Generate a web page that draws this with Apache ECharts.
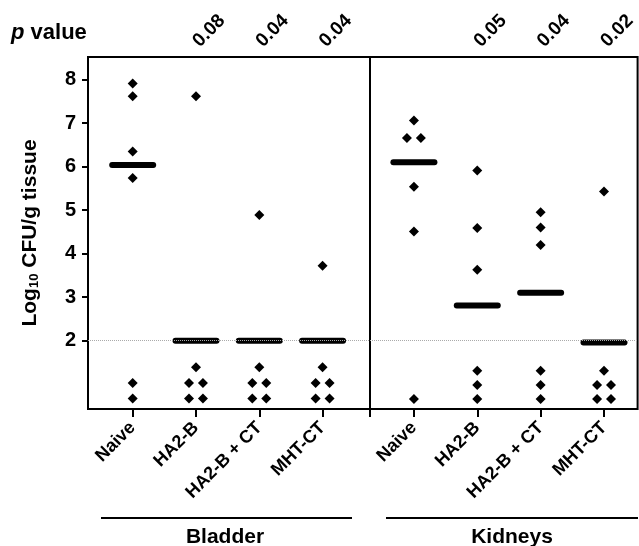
<!DOCTYPE html>
<html>
<head>
<meta charset="utf-8">
<script src="https://cdn.jsdelivr.net/npm/echarts@6/dist/echarts.min.js"></script>
<style>
  html, body { margin: 0; padding: 0; background: #fff; }
  #chart { width: 639px; height: 546px; }
</style>
</head>
<body>
<div id="chart"></div>
<script>
// groups on the x axis (same for both organs)
const groups = ['Naive', 'HA2-B', 'HA2-B + CT', 'MHT-CT'];
const yTicks = [2, 3, 4, 5, 6, 7, 8];

// p values shown above each treated group
const bladderPValues = ['', '0.08', '0.04', '0.04'];
const kidneyPValues = ['', '0.05', '0.04', '0.02'];

// medians (horizontal bars)
const bladderMedians = [6.04, 2.0, 2.0, 2.0];
const kidneyMedians = [6.10, 2.81, 3.10, 1.96];

// individual animals: [side offset, log10 CFU/g]
const bladderPoints = [
  [[0, 7.91], [0, 7.62], [0, 6.35], [0, 5.74], [0, 1.03], [0, 0.67]],
  [[0, 7.62], [0, 1.39], [-0.11, 1.03], [0.11, 1.03], [-0.11, 0.67], [0.11, 0.67]],
  [[0, 4.89], [0, 1.39], [-0.11, 1.03], [0.11, 1.03], [-0.11, 0.67], [0.11, 0.67]],
  [[0, 3.72], [0, 1.39], [-0.11, 1.03], [0.11, 1.03], [-0.11, 0.67], [0.11, 0.67]]
];
const kidneyPoints = [
  [[0, 7.06], [-0.11, 6.66], [0.11, 6.66], [0, 5.54], [0, 4.51], [0, 0.66]],
  [[0, 5.91], [0, 4.59], [0, 3.63], [0, 1.31], [0, 0.98], [0, 0.66]],
  [[0, 4.95], [0, 4.60], [0, 4.20], [0, 1.31], [0, 0.98], [0, 0.66]],
  [[0, 5.43], [0, 1.31], [-0.11, 0.98], [0.11, 0.98], [-0.11, 0.66], [0.11, 0.66]]
];

const detectionLimit = 2;

const FONT = 'Arial, "Liberation Sans", Helvetica, sans-serif';

const toXY = (pts) => {
  const out = [];
  pts.forEach((g, i) => g.forEach(p => out.push([i + p[0], p[1]])));
  return out;
};
const medianXY = (m) => m.map((v, i) => [i, v]);

const barPath = 'path://M3,0 L45,0 A3,3 0 0 1 45,6 L3,6 A3,3 0 0 1 3,0 Z';

const chart = echarts.init(document.getElementById('chart'));

const bottomAxis = (grid, min, max, extraTicks) => ({
  type: 'value',
  gridIndex: grid,
  min: min,
  max: max,
  position: 'bottom',
  axisLine: { show: false, onZero: false },
  splitLine: { show: false },
  axisTick: {
    show: true,
    length: 8,
    customValues: [0, 1, 2, 3].concat(extraTicks),
    lineStyle: { color: '#000', width: 2 }
  },
  axisLabel: {
    customValues: [0, 1, 2, 3],
    formatter: (v) => groups[Math.round(v)],
    rotate: 45,
    margin: 16,
    color: '#000',
    fontFamily: FONT,
    fontWeight: 'bold',
    fontSize: 18
  }
});

const topAxis = (grid, min, max, pvals) => ({
  type: 'value',
  gridIndex: grid,
  min: min,
  max: max,
  position: 'top',
  axisLine: { show: false, onZero: false },
  axisTick: { show: false },
  splitLine: { show: false },
  axisLabel: {
    customValues: [1, 2, 3],
    formatter: (v) => pvals[Math.round(v)],
    rotate: -45,
    margin: 13,
    color: '#000',
    fontFamily: FONT,
    fontWeight: 'bold',
    fontSize: 19
  }
});

const option = {
  backgroundColor: '#fff',
  animation: false,
  grid: [
    { left: 88, top: 57, width: 282, height: 352, show: true, borderColor: '#000', borderWidth: 2, backgroundColor: 'transparent' },
    { left: 370, top: 57, width: 268, height: 352, show: true, borderColor: '#000', borderWidth: 2, backgroundColor: 'transparent' }
  ],
  xAxis: [
    bottomAxis(0, -0.706, 3.749, [3.749]),
    bottomAxis(1, -0.693, 3.53, []),
    topAxis(0, -0.706, 3.749, bladderPValues),
    topAxis(1, -0.693, 3.53, kidneyPValues)
  ],
  yAxis: [
    {
      type: 'value',
      gridIndex: 0,
      min: 0.43,
      max: 8.52,
      name: 'Log{sub|10} CFU/g tissue',
      nameLocation: 'middle',
      nameRotate: 90,
      nameGap: 47,
      nameTextStyle: {
        color: '#000',
        fontFamily: FONT,
        fontWeight: 'bold',
        fontSize: 21,
        rich: {
          sub: { fontFamily: FONT, fontWeight: 'bold', fontSize: 13, verticalAlign: 'bottom', padding: [9, 0, 0, 0] }
        }
      },
      axisLine: { show: false, onZero: false },
      splitLine: { show: false },
      axisTick: {
        show: true,
        length: 6,
        customValues: yTicks,
        lineStyle: { color: '#000', width: 2 }
      },
      axisLabel: {
        customValues: yTicks,
        margin: 12,
        color: '#000',
        fontFamily: FONT,
        fontWeight: 'bold',
        fontSize: 20
      }
    },
    {
      type: 'value',
      gridIndex: 1,
      min: 0.43,
      max: 8.52,
      axisLine: { show: false, onZero: false },
      axisTick: { show: false },
      axisLabel: { show: false },
      splitLine: { show: false }
    }
  ],
  series: [
    {
      name: 'Bladder limit',
      type: 'line',
      xAxisIndex: 0,
      yAxisIndex: 0,
      data: [],
      markLine: {
        silent: true,
        symbol: 'none',
        label: { show: false },
        lineStyle: { color: '#aaa', type: 'dotted', width: 1 },
        data: [{ yAxis: detectionLimit }]
      },
      z: 1
    },
    {
      name: 'Kidney limit',
      type: 'line',
      xAxisIndex: 1,
      yAxisIndex: 1,
      data: [],
      markLine: {
        silent: true,
        symbol: 'none',
        label: { show: false },
        lineStyle: { color: '#aaa', type: 'dotted', width: 1 },
        data: [{ yAxis: detectionLimit }]
      },
      z: 1
    },
    {
      name: 'Bladder',
      type: 'scatter',
      xAxisIndex: 0,
      yAxisIndex: 0,
      symbol: 'diamond',
      symbolSize: 10,
      itemStyle: { color: '#000', opacity: 1 },
      data: toXY(bladderPoints),
      z: 3
    },
    {
      name: 'Kidneys',
      type: 'scatter',
      xAxisIndex: 1,
      yAxisIndex: 1,
      symbol: 'diamond',
      symbolSize: 10,
      itemStyle: { color: '#000', opacity: 1 },
      data: toXY(kidneyPoints),
      z: 3
    },
    {
      name: 'Bladder median',
      type: 'scatter',
      xAxisIndex: 0,
      yAxisIndex: 0,
      symbol: barPath,
      symbolSize: [47, 6],
      symbolKeepAspect: false,
      itemStyle: { color: '#000', opacity: 1 },
      data: medianXY(bladderMedians),
      z: 4
    },
    {
      name: 'Kidney median',
      type: 'scatter',
      xAxisIndex: 1,
      yAxisIndex: 1,
      symbol: barPath,
      symbolSize: [47, 6],
      symbolKeepAspect: false,
      itemStyle: { color: '#000', opacity: 1 },
      data: medianXY(kidneyMedians),
      z: 4
    }
  ],
  graphic: [
    {
      type: 'text',
      left: 11,
      top: 22,
      style: {
        text: '{i|p} value',
        fill: '#000',
        font: 'bold 22px ' + FONT,
        rich: { i: { fontStyle: 'italic', fontWeight: 'bold', fontSize: 22, fontFamily: FONT } }
      }
    },
    { type: 'line', shape: { x1: 101, y1: 518, x2: 352, y2: 518 }, style: { stroke: '#000', lineWidth: 2 } },
    { type: 'line', shape: { x1: 386, y1: 518, x2: 638, y2: 518 }, style: { stroke: '#000', lineWidth: 2 } },
    {
      type: 'text', x: 225, y: 537,
      style: { text: 'Bladder', fill: '#000', font: 'bold 21px ' + FONT, align: 'center', verticalAlign: 'middle' }
    },
    {
      type: 'text', x: 512, y: 537,
      style: { text: 'Kidneys', fill: '#000', font: 'bold 21px ' + FONT, align: 'center', verticalAlign: 'middle' }
    }
  ]
};

chart.setOption(option);
</script>
</body>
</html>
